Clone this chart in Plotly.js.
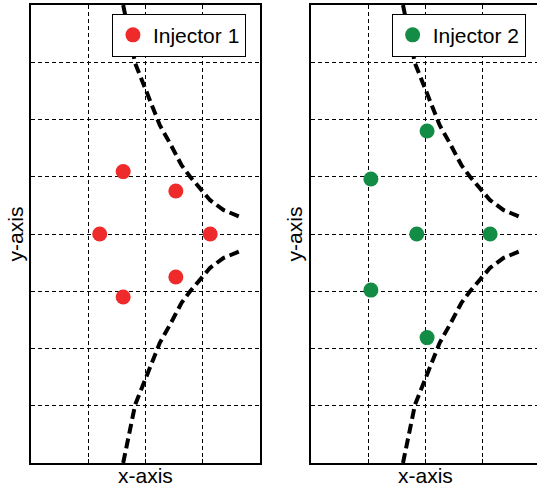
<!DOCTYPE html>
<html>
<head>
<meta charset="utf-8">
<script src="https://cdn.plot.ly/plotly-3.0.1.min.js"></script>
<style>
html, body { margin: 0; padding: 0; overflow: hidden; background: #fff; }
#chart { width: 545px; height: 488px; }
</style>
</head>
<body>
<div id="chart"></div>
<script>
// Injector 1 points
const inj1X = [1.2, 1.61, 1.61, 2.53, 2.53, 3.13];
const inj1Y = [4.0, 5.09, 2.9, 4.75, 3.25, 4.0];
// Injector 2 points
const inj2X = [1.05, 1.05, 1.85, 2.03, 2.03, 3.13];
const inj2Y = [4.96, 3.02, 4.0, 5.8, 2.19, 4.0];
// Dashed boundary curves (upper branch and lower branch)
const upperX = [1.61, 1.82, 1.96, 2.14, 2.25, 2.43, 2.63, 2.78, 2.92, 3.13, 3.36, 3.65];
const upperY = [8.0, 6.98, 6.63, 6.17, 5.9, 5.58, 5.2, 5.0, 4.83, 4.59, 4.42, 4.3];
const lowerX = [1.61, 1.82, 1.96, 2.14, 2.25, 2.43, 2.63, 2.78, 2.92, 3.13, 3.36, 3.65];
const lowerY = [0.0, 1.02, 1.37, 1.83, 2.1, 2.42, 2.8, 3.0, 3.17, 3.41, 3.58, 3.7];
// Grid tick values
const xGrid = [1, 2, 3];
const yGrid = [1, 2, 3, 4, 5, 6, 7];
// Axis titles
const xTitle = 'x-axis';
const yTitle = 'y-axis';

const red = '#ee2a2a';
const green = '#138c45';
const curve = {color: '#000', width: 4, dash: '10px,5px'};

const traces = [
  {x: upperX, y: upperY, mode: 'lines', line: curve, showlegend: false, xaxis: 'x', yaxis: 'y', hoverinfo: 'skip'},
  {x: lowerX, y: lowerY, mode: 'lines', line: curve, showlegend: false, xaxis: 'x', yaxis: 'y', hoverinfo: 'skip'},
  {x: inj1X, y: inj1Y, mode: 'markers', name: 'Injector 1', marker: {color: red, size: 15}, xaxis: 'x', yaxis: 'y', legend: 'legend'},
  {x: upperX, y: upperY, mode: 'lines', line: curve, showlegend: false, xaxis: 'x2', yaxis: 'y2', hoverinfo: 'skip'},
  {x: lowerX, y: lowerY, mode: 'lines', line: curve, showlegend: false, xaxis: 'x2', yaxis: 'y2', hoverinfo: 'skip'},
  {x: inj2X, y: inj2Y, mode: 'markers', name: 'Injector 2', marker: {color: green, size: 15}, xaxis: 'x2', yaxis: 'y2', legend: 'legend2'}
];

const font = {family: 'Liberation Sans, Arial, sans-serif', size: 21, color: '#000'};

function xax(domain, anchor) {
  return {
    domain: domain, anchor: anchor, range: [0, 4],
    showline: true, mirror: true, linecolor: '#000', linewidth: 2,
    showgrid: true, gridcolor: '#000', gridwidth: 1, griddash: '4px,3px',
    tickvals: xGrid, showticklabels: false, ticks: 'inside', ticklen: 4, tickwidth: 1, tickcolor: '#000',
    zeroline: false
  };
}
function yax(anchor) {
  return {
    domain: [0, 1], anchor: anchor, range: [0, 8],
    showline: true, mirror: true, linecolor: '#000', linewidth: 2,
    showgrid: true, gridcolor: '#000', gridwidth: 1, griddash: '4px,3px',
    tickvals: yGrid, showticklabels: false, ticks: 'inside', ticklen: 4, tickwidth: 1, tickcolor: '#000',
    zeroline: false,
    title: {text: yTitle, font: font, standoff: 0}
  };
}

const legendBase = {
  bgcolor: '#fff', bordercolor: '#000', borderwidth: 1,
  font: font, xanchor: 'left', yanchor: 'top', itemclick: false
};

const layout = {
  width: 545, height: 488,
  margin: {l: 31, r: 5, t: 5, b: 25},
  paper_bgcolor: '#fff', plot_bgcolor: '#fff',
  font: font,
  xaxis: xax([0, 0.4499], 'y'),
  yaxis: yax('x'),
  xaxis2: xax([0.5495, 1], 'y2'),
  yaxis2: yax('x2'),
  legend: Object.assign({x: 0.159, y: 0.981}, legendBase),
  legend2: Object.assign({x: 0.7085, y: 0.981}, legendBase),
  annotations: [
    {text: xTitle, xref: 'paper', yref: 'paper', x: 0.2249, y: -0.0546, xanchor: 'center', yanchor: 'bottom', borderpad: 0, showarrow: false, font: font},
    {text: xTitle, xref: 'paper', yref: 'paper', x: 0.7747, y: -0.0546, xanchor: 'center', yanchor: 'bottom', borderpad: 0, showarrow: false, font: font}
  ]
};

Plotly.newPlot('chart', traces, layout, {staticPlot: true, displayModeBar: false});
</script>
</body>
</html>
